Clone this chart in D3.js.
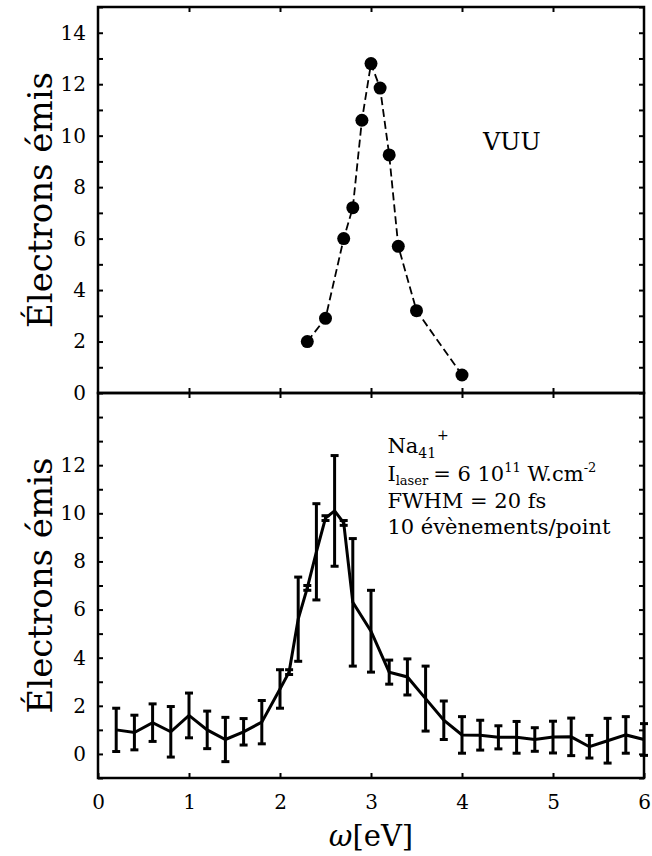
<!DOCTYPE html>
<html>
<head>
<meta charset="utf-8">
<script src="https://cdn.jsdelivr.net/npm/d3@7"></script>
<style>
  body { margin: 0; background: #fff; }
  text { font-family: "DejaVu Serif"; }
</style>
</head>
<body>
<svg id="chart"></svg>
<script>
const width = 652;
const height = 856;

// axis ticks
const xTicks = [0, 1, 2, 3, 4, 5, 6];
const topYLabels = [0, 2, 4, 6, 8, 10, 12, 14];
const topYMinor = d3.range(0, 16);
const botYLabels = [0, 2, 4, 6, 8, 10, 12];
const botYMinor = d3.range(-1, 15);

// top panel: VUU
const vuuOmega = [2.3, 2.5, 2.7, 2.8, 2.9, 3.0, 3.1, 3.2, 3.3, 3.5, 4.0];
const vuuElectrons = [2.0, 2.9, 6.0, 7.2, 10.6, 12.8, 11.85, 9.25, 5.7, 3.2, 0.7];

// bottom panel: 10 events per point, with error bars
const mcOmega = [0.2, 0.4, 0.6, 0.8, 1.0, 1.2, 1.4, 1.6, 1.8, 2.0, 2.1, 2.2, 2.3, 2.4, 2.5, 2.6, 2.7, 2.8,
  3.0, 3.2, 3.4, 3.6, 3.8, 4.0, 4.2, 4.4, 4.6, 4.8, 5.0, 5.2, 5.4, 5.6, 5.8, 6.0];
const mcElectrons = [1.0, 0.89, 1.3, 0.92, 1.6, 1.0, 0.6, 0.92, 1.32, 2.7, 3.4, 5.6, 6.9, 8.4, 9.8, 10.1, 9.6, 6.3,
  5.1, 3.4, 3.2, 2.3, 1.4, 0.79, 0.78, 0.69, 0.69, 0.6, 0.7, 0.71, 0.3, 0.55, 0.79, 0.6];
const mcError = [0.9, 0.72, 0.78, 1.05, 0.93, 0.78, 0.92, 0.55, 0.9, 0.8, 0.1, 1.75, 0.1, 2.0, 0.1, 2.3, 0.1, 2.65,
  1.7, 0.5, 0.75, 1.35, 0.8, 0.76, 0.62, 0.48, 0.66, 0.49, 0.66, 0.78, 0.47, 0.93, 0.76, 0.66];

const svg = d3.select("#chart")
  .attr("width", width)
  .attr("height", height);

const x = d3.scaleLinear().domain([0, 6]).range([98, 644]);
const yTop = d3.scaleLinear().domain([0, 15]).range([393, 7]);
const yBot = d3.scaleLinear().domain([-1, 15]).range([778, 393]);

function yAxes(y, minor, labels) {
  svg.append("g")
    .attr("class", "axis")
    .attr("transform", `translate(${x.range()[0]},0)`)
    .call(d3.axisLeft(y).tickValues(minor).tickSize(-5).tickPadding(12)
      .tickFormat(d => labels.includes(d) ? d : ""));
  svg.append("g")
    .attr("class", "axis")
    .attr("transform", `translate(${x.range()[1]},0)`)
    .call(d3.axisRight(y).tickValues(minor).tickSize(-5).tickFormat(""));
}

function xTickMarks(yPos, dir) {
  const axis = dir > 0 ? d3.axisBottom(x) : d3.axisTop(x);
  svg.append("g")
    .attr("class", "axis")
    .attr("transform", `translate(0,${yPos})`)
    .call(axis.tickValues(xTicks.slice(1, -1)).tickSize(-5).tickFormat(""));
}

yAxes(yTop, topYMinor, topYLabels);
yAxes(yBot, botYMinor, botYLabels);
xTickMarks(yTop.range()[1], -1);
xTickMarks(yTop.range()[0], 1);
xTickMarks(yTop.range()[0], -1);

// bottom x axis with labels
svg.append("g")
  .attr("class", "axis")
  .attr("transform", `translate(0,${yBot.range()[0]})`)
  .call(d3.axisBottom(x).tickValues(xTicks).tickSize(-5).tickPadding(17).tickFormat(d3.format("d")));

svg.selectAll(".axis").attr("font-family", null).attr("font-size", null);
svg.selectAll(".axis .domain").remove();
svg.selectAll(".axis line").attr("stroke", "#000").attr("stroke-width", 2);
svg.selectAll(".axis text")
  .style("font-size", "20px")
  .attr("fill", "#000");

// frames
[yTop, yBot].forEach(y => {
  svg.append("rect")
    .attr("x", x.range()[0])
    .attr("y", y.range()[1])
    .attr("width", x.range()[1] - x.range()[0])
    .attr("height", y.range()[0] - y.range()[1])
    .attr("fill", "none")
    .attr("stroke", "#000")
    .attr("stroke-width", 2.5);
});

// top panel curve
const topLine = d3.line().x((d, i) => x(vuuOmega[i])).y(d => yTop(d));
svg.append("path")
  .datum(vuuElectrons)
  .attr("d", topLine)
  .attr("fill", "none")
  .attr("stroke", "#000")
  .attr("stroke-width", 1.8)
  .attr("stroke-dasharray", "8,4");

svg.selectAll(".vuu")
  .data(vuuElectrons)
  .enter()
  .append("circle")
  .attr("class", "vuu")
  .attr("cx", (d, i) => x(vuuOmega[i]))
  .attr("cy", d => yTop(d))
  .attr("r", 6.5)
  .attr("fill", "#000");

svg.append("text")
  .attr("x", x(4.23))
  .attr("y", 150)
  .style("font-size", "24px")
  .text("VUU");

// bottom panel
const botLine = d3.line().x((d, i) => x(mcOmega[i])).y(d => yBot(d));
svg.append("path")
  .datum(mcElectrons)
  .attr("d", botLine)
  .attr("fill", "none")
  .attr("stroke", "#000")
  .attr("stroke-width", 3);

const bars = svg.selectAll(".err")
  .data(mcElectrons)
  .enter()
  .append("g")
  .attr("class", "err")
  .attr("stroke", "#000")
  .attr("stroke-width", 3);

bars.append("line")
  .attr("x1", (d, i) => x(mcOmega[i]))
  .attr("x2", (d, i) => x(mcOmega[i]))
  .attr("y1", (d, i) => yBot(d - mcError[i]))
  .attr("y2", (d, i) => yBot(d + mcError[i]));

[-1, 1].forEach(s => {
  bars.append("line")
    .attr("x1", (d, i) => x(mcOmega[i]) - 4)
    .attr("x2", (d, i) => x(mcOmega[i]) + 4)
    .attr("y1", (d, i) => yBot(d + s * mcError[i]))
    .attr("y2", (d, i) => yBot(d + s * mcError[i]));
});

// annotation
const note = svg.append("g")
  .attr("transform", `translate(${x(3.18)},0)`)
  .style("font-size", "21px");

const t1 = note.append("text").attr("x", 0).attr("y", 453);
t1.append("tspan").text("Na");
t1.append("tspan").attr("dy", 5).style("font-size", "14px").text("41");
t1.append("tspan").attr("dy", -18).attr("dx", 1).style("font-size", "14px").text("+");

const t2 = note.append("text").attr("x", 0).attr("y", 481);
t2.append("tspan").text("I");
t2.append("tspan").attr("dy", 4).style("font-size", "13px").text("laser");
t2.append("tspan").attr("dy", -4).attr("dx", 5).text("= 6 10");
t2.append("tspan").attr("dy", -9).style("font-size", "13px").text("11");
t2.append("tspan").attr("dy", 9).text(" W.cm");
t2.append("tspan").attr("dy", -9).style("font-size", "13px").text("-2");

note.append("text").attr("x", 0).attr("y", 508).text("FWHM = 20 fs");
note.append("text").attr("x", 0).attr("y", 534).text("10 évènements/point");

// axis titles
[yTop, yBot].forEach(y => {
  svg.append("text")
    .attr("transform", `translate(52,${(y.range()[0] + y.range()[1]) / 2}) rotate(-90)`)
    .attr("text-anchor", "middle")
    .style("font-size", "34px")
    .text("Électrons émis");
});

const xt = svg.append("text")
  .attr("x", x(3))
  .attr("y", 846)
  .attr("text-anchor", "middle")
  .style("font-size", "29px");
xt.append("tspan").style("font-style", "italic").text("ω");
xt.append("tspan").text("[eV]");
</script>
</body>
</html>
